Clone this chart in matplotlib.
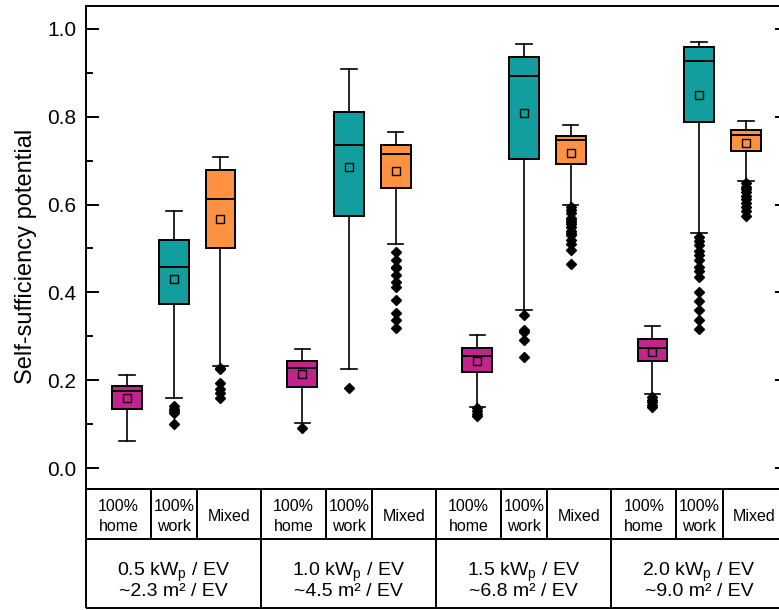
import matplotlib
matplotlib.use("Agg")
import matplotlib.pyplot as plt

plt.rcParams['font.family'] = ['Liberation Sans', 'DejaVu Sans']
plt.rcParams['mathtext.fontset'] = 'custom'
plt.rcParams['mathtext.rm'] = 'Liberation Sans'
plt.rcParams['mathtext.it'] = 'Liberation Sans'

# ---------------- data ----------------
group_line1 = ["0.5 kW$_\\mathregular{p}$ / EV", "1.0 kW$_\\mathregular{p}$ / EV",
               "1.5 kW$_\\mathregular{p}$ / EV", "2.0 kW$_\\mathregular{p}$ / EV"]
group_line2 = ["~2.3 m² / EV", "~4.5 m² / EV", "~6.8 m² / EV", "~9.0 m² / EV"]
scenarios = ["100%\nhome", "100%\nwork", "Mixed"]
colors = ["#C2238D", "#129E9F", "#FF9240"]

# per group: [home, work, mixed]
whislo = [[0.063, 0.161, 0.233], [0.104, 0.225, 0.511],
          [0.139, 0.359, 0.598], [0.168, 0.535, 0.654]]
q1 = [[0.134, 0.373, 0.501], [0.185, 0.575, 0.638],
      [0.219, 0.703, 0.693], [0.243, 0.787, 0.722]]
med = [[0.176, 0.459, 0.613], [0.229, 0.735, 0.716],
       [0.255, 0.892, 0.746], [0.274, 0.927, 0.758]]
q3 = [[0.188, 0.520, 0.679], [0.244, 0.811, 0.735],
      [0.274, 0.936, 0.756], [0.295, 0.958, 0.769]]
whishi = [[0.212, 0.585, 0.708], [0.272, 0.908, 0.764],
          [0.304, 0.966, 0.781], [0.323, 0.969, 0.791]]
means = [[0.161, 0.431, 0.567], [0.214, 0.686, 0.677],
         [0.245, 0.808, 0.717], [0.265, 0.850, 0.740]]
fliers = [
    [[], [0.141, 0.135, 0.130, 0.126, 0.101],
     [0.229, 0.225, 0.193, 0.180, 0.171, 0.159]],
    [[0.091], [0.183],
     [0.492, 0.474, 0.459, 0.455, 0.440, 0.424, 0.413, 0.383, 0.353, 0.337, 0.318]],
    [[0.137, 0.130, 0.124, 0.119], [0.349, 0.315, 0.310, 0.292, 0.254],
     [0.594, 0.588, 0.580, 0.570, 0.565, 0.560, 0.555, 0.548, 0.540, 0.535,
      0.530, 0.520, 0.510, 0.497, 0.464]],
    [[0.162, 0.155, 0.150, 0.145, 0.140],
     [0.526, 0.518, 0.508, 0.495, 0.485, 0.474, 0.459, 0.448, 0.436,
      0.401, 0.381, 0.360, 0.337, 0.316],
     [0.648, 0.640, 0.635, 0.628, 0.620, 0.612, 0.604, 0.595, 0.586, 0.575]],
]
yticks = [0.0, 0.2, 0.4, 0.6, 0.8, 1.0]
yminor = [0.1, 0.3, 0.5, 0.7, 0.9]

group_step = 3.75
x_left = -0.88

# ---------------- figure ----------------
W, H = 779, 610
fig = plt.figure(figsize=(W / 100, H / 100), dpi=100)

def px_axes(x0, y0, x1, y1):
    return fig.add_axes([x0 / W, 1 - y1 / H, (x1 - x0) / W, (y1 - y0) / H])

ax = px_axes(86, 6, 786.5, 489)
lw = 1.4

stats, positions, facecols = [], [], []
for g in range(4):
    for i in range(3):
        stats.append(dict(whislo=whislo[g][i], q1=q1[g][i], med=med[g][i],
                          q3=q3[g][i], whishi=whishi[g][i], mean=means[g][i],
                          fliers=fliers[g][i]))
        positions.append(g * group_step + i)
        facecols.append(colors[i])

bp = ax.bxp(stats, positions=positions, widths=0.64, patch_artist=True,
            showmeans=True, showfliers=True, capwidths=0.33,
            boxprops=dict(edgecolor='black', linewidth=lw),
            medianprops=dict(color='black', linewidth=lw),
            whiskerprops=dict(color='black', linewidth=1.2),
            capprops=dict(color='black', linewidth=1.2),
            meanprops=dict(marker='s', markerfacecolor='none',
                           markeredgecolor='black', markersize=5.5,
                           markeredgewidth=1.0),
            flierprops=dict(marker='D', markerfacecolor='black',
                            markeredgecolor='black', markersize=5))
for patch, c in zip(bp['boxes'], facecols):
    patch.set_facecolor(c)

ax.set_xlim(x_left, x_left + 15)
ax.set_ylim(-0.0471, 1.0516)
ax.set_yticks(yticks)
ax.set_yticklabels([f"{v:.1f}" for v in yticks])
ax.set_yticks(yminor, minor=True)
ax.set_xticks([])
ax.tick_params(axis='y', which='both', direction='in', right=True,
               width=lw, labelsize=15, pad=7)
ax.tick_params(axis='y', which='major', length=9)
ax.tick_params(axis='y', which='minor', length=5)
for s in ax.spines.values():
    s.set_linewidth(lw)

fig.text(26 / W, 1 - 256 / H, "Self-sufficiency potential", rotation=90,
         ha='center', va='center', fontsize=17)

# ---------------- table below ----------------
tb = px_axes(86, 489, 786.5, 608)
tb.set_xlim(x_left, x_left + 15)
tb.set_ylim(0, 1)
tb.axis('off')
row_div = (608 - 539) / 119
kw = dict(color='black', linewidth=lw, clip_on=False, solid_capstyle='butt')
tb.plot([x_left, x_left + 15], [1, 1], **kw)
tb.plot([x_left, x_left + 15], [0, 0], **kw)
tb.plot([x_left, x_left + 15], [row_div, row_div], **kw)
tb.plot([x_left, x_left], [0, 1], **kw)

def ty(px):
    return (608 - px) / 119

for g in range(4):
    base = g * group_step
    right = x_left + (g + 1) * group_step
    tb.plot([right, right], [0, 1], **kw)
    for b in (0.51, 1.5):
        tb.plot([base + b, base + b], [row_div, 1], **kw)
    centers = [(base + x_left + base + 0.51) / 2, base + 1.005, (base + 1.5 + right) / 2]
    for i, lab in enumerate(scenarios):
        lines = lab.split("\n")
        if len(lines) == 2:
            tb.text(centers[i], ty(511), lines[0], ha='center', va='baseline', fontsize=11.5)
            tb.text(centers[i], ty(531), lines[1], ha='center', va='baseline', fontsize=11.5)
        else:
            tb.text(centers[i], ty(521), lines[0], ha='center', va='baseline', fontsize=11.5)
    gc = (base + x_left + right) / 2
    tb.text(gc, ty(576), group_line1[g], ha='center', va='baseline', fontsize=14)
    tb.text(gc, ty(596), group_line2[g], ha='center', va='baseline', fontsize=14)

fig.savefig("out.png", dpi=100)
